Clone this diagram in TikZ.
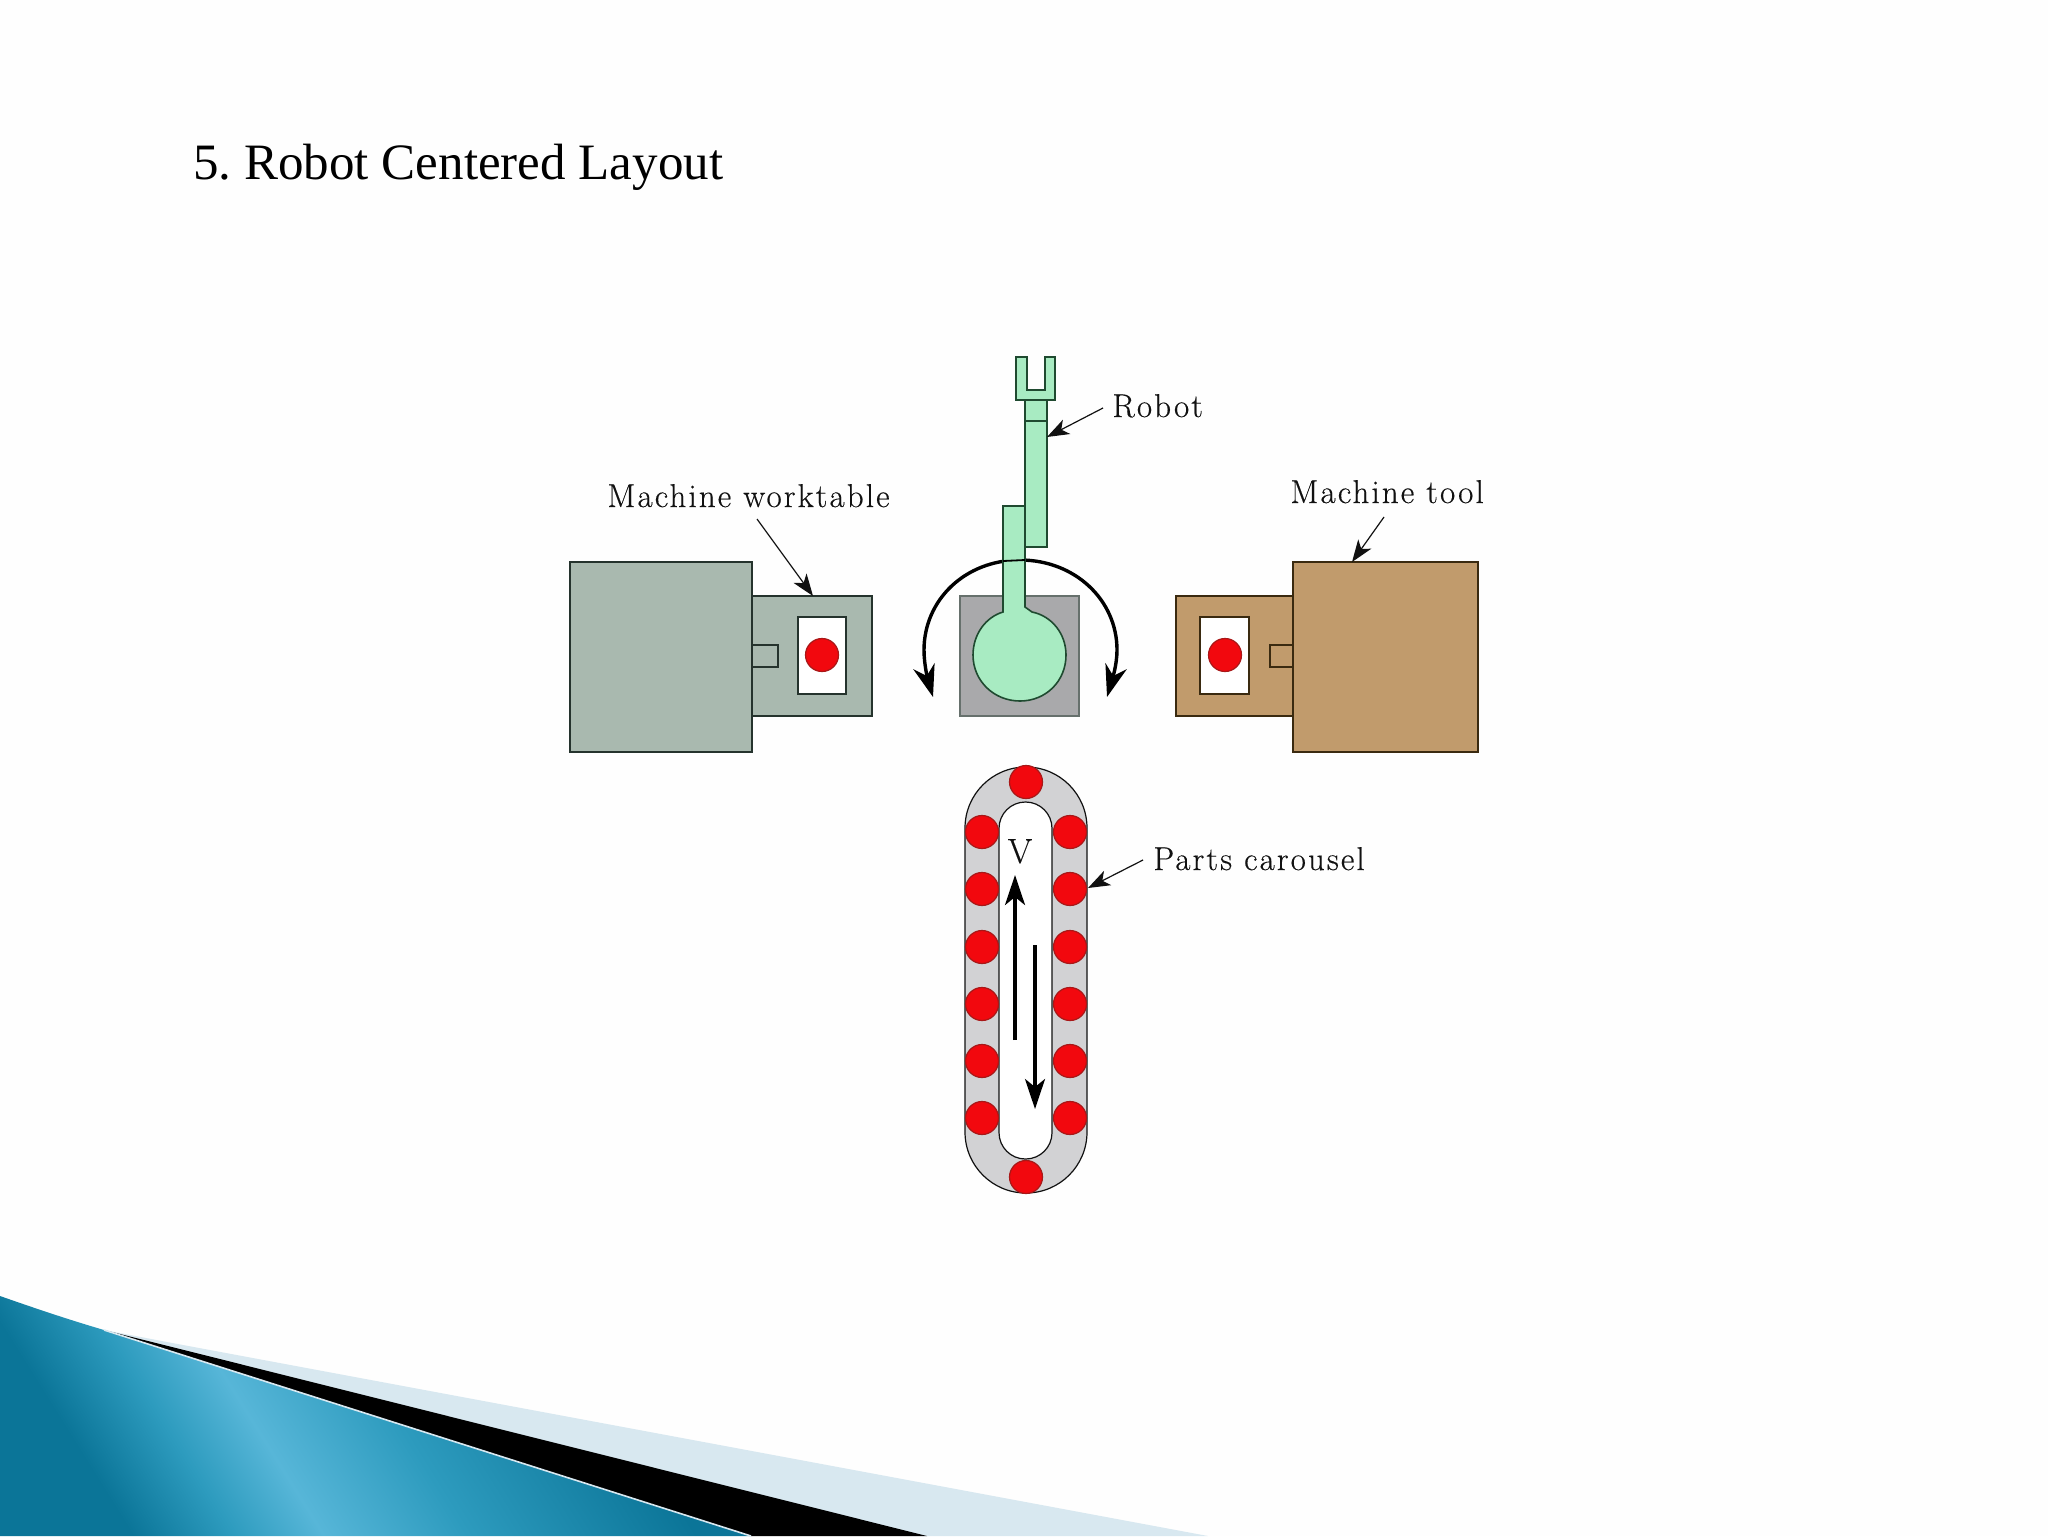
\documentclass[tikz,border=0pt]{standalone}
\usepackage{fontspec}
\setmainfont{Liberation Serif}
\newfontfamily\labfont[LetterSpace=6.4,FakeBold=0.35]{Latin Modern Roman}
\usetikzlibrary{arrows.meta}
\definecolor{bgc}{HTML}{FEFEFE}
\definecolor{sage}{HTML}{A9B9AF}
\definecolor{sageline}{HTML}{25332D}
\definecolor{tan}{HTML}{C19B6C}
\definecolor{tanline}{HTML}{3A2A10}
\definecolor{mint}{HTML}{A8EBC2}
\definecolor{mintline}{HTML}{1F4A30}
\definecolor{greysq}{HTML}{A9A9AB}
\definecolor{belt}{HTML}{D2D2D4}
\definecolor{partred}{HTML}{F2080E}
\definecolor{partline}{HTML}{A81818}
\definecolor{lightband}{HTML}{D8E8F0}
\definecolor{ink}{HTML}{111111}
\definecolor{blueA}{HTML}{0B7598}
\definecolor{blueB}{HTML}{2D9BBE}
\definecolor{blueC}{HTML}{57B6D8}
\pgfdeclarehorizontalshading{blueband}{100bp}{
 color(0bp)=(blueA);
 color(32bp)=(blueA);
 color(37.7bp)=(blueB);
 color(42.8bp)=(blueC);
 color(51bp)=(blueB);
 color(64bp)=(blueA);
 color(100bp)=(blueA)}
\tikzset{
 sageshape/.style={draw=sageline,fill=sage,line width=1pt},
 tanshape/.style={draw=tanline,fill=tan,line width=1pt},
 mintshape/.style={draw=mintline,fill=mint,line width=.8pt},
 part/.style={circle,fill=partred,draw=partline,line width=.6pt,minimum size=16.5pt,inner sep=0pt},
 lab/.style={anchor=base west,inner sep=0pt,text=ink,font=\labfont\fontsize{16.5}{20}\selectfont},
 leader/.style={draw=ink,line width=.6pt,-{Stealth[length=11pt,width=8pt,inset=3pt]}},
 swing/.style={draw=black,line width=1.7pt,-{Stealth[length=16pt,width=11pt,inset=5pt]}},
 travel/.style={draw=black,line width=1.7pt,-{Stealth[length=15pt,width=10pt,inset=4pt]}}
}
\begin{document}
\begin{tikzpicture}[x=.5pt,y=-.5pt]
\useasboundingbox (0,0) rectangle (2048,1536);
\fill[bgc] (0,0) rectangle (2048,1536);
% corner band
\fill[lightband] (167,1342) -- (1208,1536) -- (900,1536) -- (104,1330) -- cycle;
\fill[black] (104,1330) -- (927,1536) -- (751,1536) -- cycle;
\begin{scope}
\clip (0,1296) .. controls (40,1310) and (70,1320) .. (104,1330) -- (751,1536) -- (0,1536) -- cycle;
\shade[shading=blueband,shading angle=32] (0,1040) rectangle (751,1791);
\end{scope}
\draw[lightband,line width=.8pt] (104,1330) -- (751,1536);
% title
\node[anchor=base west,inner sep=0pt,font=\fontsize{25.5}{30}\selectfont\frenchspacing] (title) at (193,179) {5. Robot Centered Layout};
% machine worktable side
\draw[sageshape] (752,596) rectangle (872,716);
\draw[sageshape] (570,562) rectangle (752,752);
\draw[sageshape] (752,645) rectangle (778,667);
\draw[draw=sageline,fill=white,line width=1pt] (798,617) rectangle (846,694);
\node[part] (p1) at (822,655) {};
% machine tool side
\draw[tanshape] (1176,596) rectangle (1293,716);
\draw[tanshape] (1293,562) rectangle (1478,752);
\draw[tanshape] (1270,645) rectangle (1293,667);
\draw[draw=tanline,fill=white,line width=1pt] (1200,617) rectangle (1249,694);
\node[part] (p2) at (1225,655) {};
% robot
\draw[draw=sageline!70,fill=greysq,line width=1pt] (960,596) rectangle (1079,716);
\draw[swing] (1020,560) .. controls (965,560) and (924,600) .. (924,650) .. controls (924,665) and (928,680) .. (933,697);
\draw[swing] (1020,560) .. controls (1075,560) and (1117,600) .. (1117,650) .. controls (1117,665) and (1112,680) .. (1107,697);
\draw[mintshape] (1003,612) -- (1003,506) -- (1025,506) -- (1025,607) -- (1032,612)
  .. controls (1052,616) and (1066,634) .. (1066,655)
  .. controls (1066,681) and (1046,701) .. (1020,701)
  .. controls (994,701) and (973,681) .. (973,655)
  .. controls (973,634) and (986,617) .. (1003,612) -- cycle;
\draw[mintshape] (1025,400) rectangle (1047,547);
\draw[mintline,line width=.6pt] (1025,421) -- (1047,421);
\draw[mintshape] (1016,357) -- (1027,357) -- (1027,390) -- (1045,390) -- (1045,357) -- (1055,357) -- (1055,400) -- (1016,400) -- cycle;
\draw[black,line width=.9pt] (1003,561) -- (1025,560);
% carousel
\draw[draw=ink,fill=belt,line width=.6pt,rounded corners=30.5pt] (965,767) rectangle (1087,1193);
\draw[draw=ink,fill=white,line width=.6pt,rounded corners=13.2pt] (999,802) rectangle (1052,1159);
\node[part] (c0) at (1026,782) {};
\node[part] (c13) at (1026,1177) {};
\foreach \n/\yy in {1/832,2/889,3/947,4/1004,5/1061,6/1118}{
  \node[part] (l\n) at (982,\yy) {};
  \node[part] (r\n) at (1070,\yy) {};
}
% V and travel arrows
\node[anchor=base,inner sep=0pt,text=ink,font=\labfont\fontsize{17.5}{20}\selectfont] (vlab) at (1020,863) {V};
\coordinate (upa) at (1015,1040);
\coordinate (upb) at (1015,875);
\coordinate (dna) at (1035,945);
\coordinate (dnb) at (1035,1109);
\draw[travel] (upa) -- (upb);
\draw[travel] (dna) -- (dnb);
% labels and leaders
\node[lab] (mw) at (607,507) {Machine worktable};
\node[lab] (rb) at (1112,417) {Robot};
\node[lab] (mt) at (1290,503) {Machine tool};
\node[lab] (pc) at (1153,870) {Parts carousel};
\coordinate (mws) at (757,519);
\coordinate (mwe) at (813,596);
\coordinate (rbs) at (1103,408);
\coordinate (rbe) at (1047,437);
\coordinate (mts) at (1384,517);
\coordinate (mte) at (1352,562);
\coordinate (pcs) at (1143,860);
\coordinate (pce) at (1088,888);
\draw[leader] (mws) -- (mwe);
\draw[leader] (rbs) -- (rbe);
\draw[leader] (mts) -- (mte);
\draw[leader] (pcs) -- (pce);
\end{tikzpicture}
\end{document}
